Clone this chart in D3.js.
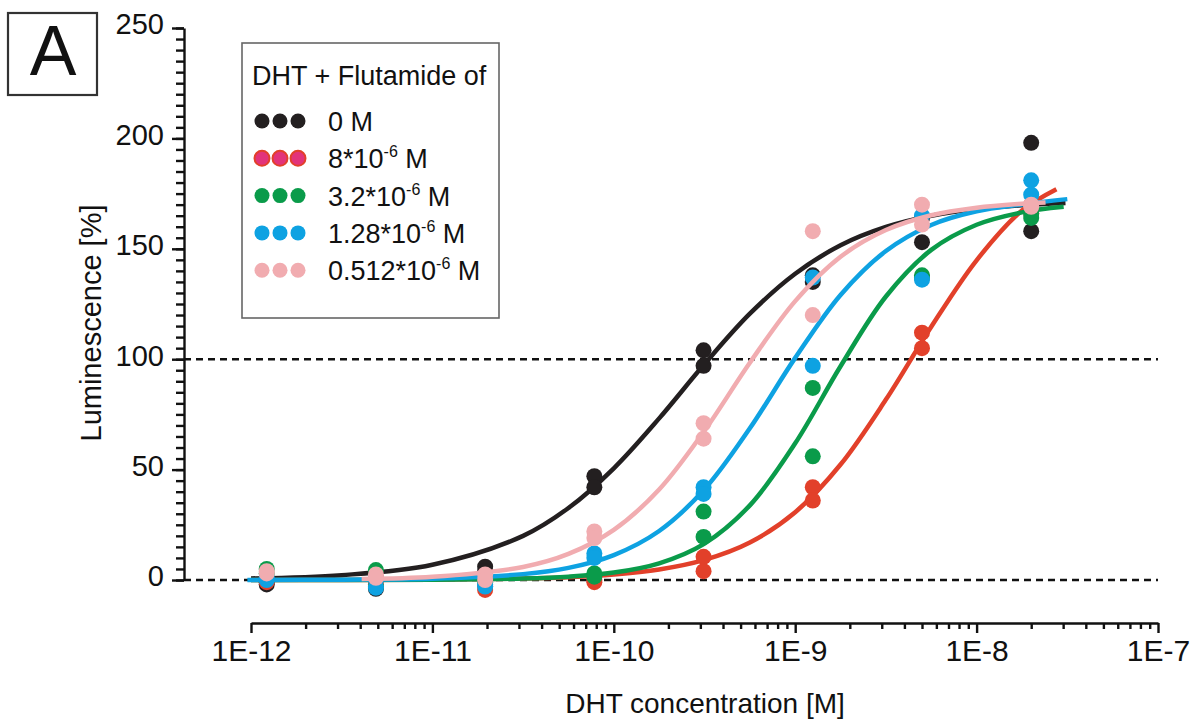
<!DOCTYPE html>
<html><head><meta charset="utf-8">
<script src="https://cdn.jsdelivr.net/npm/d3@7"></script>
<style>
body{margin:0;background:#fff}
svg{display:block}
text{font-family:"Liberation Sans",Arial,sans-serif;fill:#111}
</style>
</head><body>
<svg id="chart" width="1196" height="719"></svg>
<script>
// ---------- DATA ----------
const concentrations = [1.2207e-12, 4.8828e-12, 1.9531e-11, 7.8125e-11, 3.125e-10, 1.25e-9, 5e-9, 2e-8];
const xTickValues = [1e-12, 1e-11, 1e-10, 1e-9, 1e-8, 1e-7];
const xTickLabels = ["1E-12", "1E-11", "1E-10", "1E-9", "1E-8", "1E-7"];
const yTickValues = [0, 50, 100, 150, 200, 250];
const referenceLines = [0, 100];

const seriesKeys = ["f0", "f8", "f32", "f128", "f0512"];
const legendBase = ["0 M", "8*10", "3.2*10", "1.28*10", "0.512*10"];
const legendSup  = ["", "-6", "-6", "-6", "-6"];
const legendTail = ["", " M", " M", " M", " M"];

const f0_rep1   = [-2, 1, 6, 47, 104, 138, 164, 198];
const f0_rep2   = [-1, -4, 4, 42, 97, 135, 153, 158];
const f8_rep1   = [0, 0, -3, -1, 10.5, 42, 112, 170];
const f8_rep2   = [-1, -2, -4.5, 0, 4, 36, 105, 166];
const f32_rep1  = [5, 4.5, 0, 3, 31, 87, 138, 166];
const f32_rep2  = [3, -3, -1, 1.5, 19.5, 56, 137, 164];
const f128_rep1 = [1, 0, -2, 12, 42, 137, 165, 181];
const f128_rep2 = [0, -3.5, -3, 10, 39, 97, 136, 174.5];
const f0512_rep1 = [4, 2.5, 2.5, 22, 71, 158, 170, 170];
const f0512_rep2 = [3, 1, 0, 19, 64, 120, 161, 169];

// fitted curves (log10 concentration, luminescence %)
const f0_curveX   = [-12, -11.5, -11, -10.5, -10.25, -10, -9.75, -9.5, -9.25, -9, -8.75, -8.5, -8.25, -8, -7.75, -7.51];
const f0_curveY   = [0.7, 2.2, 6.9, 20.0, 32.6, 50.6, 73.2, 97.8, 120.6, 138.7, 151.6, 159.9, 165.0, 168.0, 169.7, 170.7];
const f8_curveX   = [-12, -11.5, -11, -10.5, -10.25, -10, -9.75, -9.5, -9.25, -9, -8.75, -8.5, -8.25, -8, -7.75, -7.56];
const f8_curveY   = [0.0, 0.05, 0.17, 0.66, 1.28, 2.48, 4.78, 9.13, 17.0, 30.7, 52.3, 81.7, 114.7, 144.8, 167.3, 177];
const f32_curveX  = [-12, -11.5, -11, -10.5, -10.25, -10, -9.75, -9.5, -9.25, -9, -8.75, -8.5, -8.25, -8, -7.75, -7.52];
const f32_curveY  = [0.0, 0.02, 0.12, 0.65, 1.48, 3.37, 7.57, 16.5, 33.8, 61.9, 96.8, 128.4, 149.5, 160.9, 166.5, 169];
const f128_curveX = [-12.02, -11.5, -11, -10.5, -10.25, -10, -9.75, -9.5, -9.25, -9, -8.75, -8.5, -8.25, -8, -7.75, -7.5];
const f128_curveY = [0.03, 0.14, 0.6, 2.66, 5.5, 11.3, 22.2, 41.1, 68.7, 100.6, 129.1, 149.0, 160.8, 167.0, 170.1, 172.5];
const f0512_curveX = [-11.39, -11, -10.5, -10.25, -10, -9.75, -9.5, -9.25, -9, -8.75, -8.5, -8.25, -8, -7.75, -7.62];
const f0512_curveY = [0.46, 1.42, 5.9, 11.8, 22.7, 41.0, 67.6, 98.4, 126.3, 146.4, 158.5, 165.2, 168.6, 170.4, 171];

const colors = {f0: "#231f20", f8: "#e2402a", f32: "#0a9b4a", f128: "#0ea2e2", f0512: "#f1acb0"};
const legendFill = {f0: "#231f20", f8: "#e2337a", f32: "#0a9b4a", f128: "#0ea2e2", f0512: "#f1acb0"};

const series = {
  f0:   {reps: [f0_rep1, f0_rep2],     cx: f0_curveX,   cy: f0_curveY},
  f8:   {reps: [f8_rep1, f8_rep2],     cx: f8_curveX,   cy: f8_curveY},
  f32:  {reps: [f32_rep1, f32_rep2],   cx: f32_curveX,  cy: f32_curveY},
  f128: {reps: [f128_rep1, f128_rep2], cx: f128_curveX, cy: f128_curveY},
  f0512:{reps: [f0512_rep1, f0512_rep2], cx: f0512_curveX, cy: f0512_curveY}
};

// ---------- CHART ----------
const svg = d3.select("#chart");
const x = d3.scaleLog().domain([1e-12, 1e-7]).range([251, 1158]);
const y = d3.scaleLinear().domain([0, 250]).range([580, 28]);
const yAxisX = 184, xAxisY = 623;

// panel label
svg.append("rect").attr("x", 8).attr("y", 13).attr("width", 89).attr("height", 82)
  .attr("fill", "none").attr("stroke", "#333").attr("stroke-width", 2.2);
svg.append("text").attr("x", 53).attr("y", 75).attr("text-anchor", "middle")
  .attr("font-size", 70).text("A");

// reference dashed lines
svg.selectAll("line.ref").data(referenceLines).join("line").attr("class", "ref")
  .attr("x1", yAxisX).attr("x2", 1158).attr("y1", d => y(d)).attr("y2", d => y(d))
  .attr("stroke", "#111").attr("stroke-width", 2.4).attr("stroke-dasharray", "7,5");

// y axis
const yMinor = d3.range(0, 251, 5);
const gyMinor = svg.append("g").attr("transform", `translate(${yAxisX},0)`)
  .call(d3.axisLeft(y).tickValues(yMinor).tickSize(8).tickSizeOuter(0).tickFormat(""));
const gy = svg.append("g").attr("transform", `translate(${yAxisX},0)`)
  .call(d3.axisLeft(y).tickValues(yTickValues).tickSize(12).tickSizeOuter(0).tickPadding(8));
[gyMinor, gy].forEach(g => {
  g.selectAll("path,line").attr("stroke", "#111").attr("stroke-width", 2.4);
});
gyMinor.select(".domain").remove();
gy.selectAll("text").attr("font-size", 29).attr("fill", "#111").attr("dy", "0.2em");

// x axis
const xMinor = [];
for (let e = -12; e < -7; e++) for (let m = 2; m <= 9; m++) xMinor.push(m * Math.pow(10, e));
const gxMinor = svg.append("g").attr("transform", `translate(0,${xAxisY})`)
  .call(d3.axisBottom(x).tickValues(xMinor).tickSize(6).tickSizeOuter(0).tickFormat(""));
const gx = svg.append("g").attr("transform", `translate(0,${xAxisY})`)
  .call(d3.axisBottom(x).tickValues(xTickValues).tickSize(10).tickSizeOuter(0).tickPadding(7)
    .tickFormat((d, i) => xTickLabels[i]));
[gxMinor, gx].forEach(g => g.selectAll("path,line").attr("stroke", "#111").attr("stroke-width", 2.4));
gxMinor.select(".domain").remove();
gx.selectAll("text").attr("font-size", 30).attr("fill", "#111");

// axis titles
svg.append("text").attr("x", 705).attr("y", 713).attr("text-anchor", "middle")
  .attr("font-size", 28).text("DHT concentration [M]");
svg.append("text").attr("transform", "translate(101,323) rotate(-90)").attr("text-anchor", "middle")
  .attr("font-size", 29).text("Luminescence [%]");

// curves and points
const line = d3.line().x(d => x(Math.pow(10, d[0]))).y(d => y(d[1])).curve(d3.curveCatmullRom.alpha(0.5));
seriesKeys.forEach(k => {
  const s = series[k];
  const g = svg.append("g");
  const pts = s.cx.map((v, i) => [v, s.cy[i]]);
  g.append("path").attr("d", line(pts)).attr("fill", "none")
    .attr("stroke", colors[k]).attr("stroke-width", 4.5).attr("stroke-linecap", "butt");
  s.reps.forEach(rep => {
    g.selectAll(null).data(rep.map((v, i) => [concentrations[i], v])).join("circle")
      .attr("cx", d => x(d[0])).attr("cy", d => y(d[1])).attr("r", 8).attr("fill", colors[k]);
  });
});

// legend
const lg = svg.append("g");
lg.append("rect").attr("x", 242).attr("y", 43).attr("width", 257).attr("height", 275)
  .attr("fill", "#fff").attr("stroke", "#666").attr("stroke-width", 1.6);
lg.append("text").attr("x", 252).attr("y", 85).attr("font-size", 27).text("DHT + Flutamide of");
seriesKeys.forEach((k, i) => {
  const cy = 121 + i * 37.3;
  [262, 280, 298].forEach(cx => {
    lg.append("circle").attr("cx", cx).attr("cy", cy).attr("r", 7.5)
      .attr("fill", legendFill[k]).attr("stroke", colors[k]).attr("stroke-width", k === "f8" ? 2 : 0);
  });
  const t = lg.append("text").attr("x", 328).attr("y", cy + 10).attr("font-size", 27);
  t.append("tspan").text(legendBase[i]);
  if (legendSup[i]) {
    t.append("tspan").attr("font-size", 16).attr("dy", -11).text(legendSup[i]);
    t.append("tspan").attr("dy", 11).text(legendTail[i]);
  }
});
</script>
</body></html>
